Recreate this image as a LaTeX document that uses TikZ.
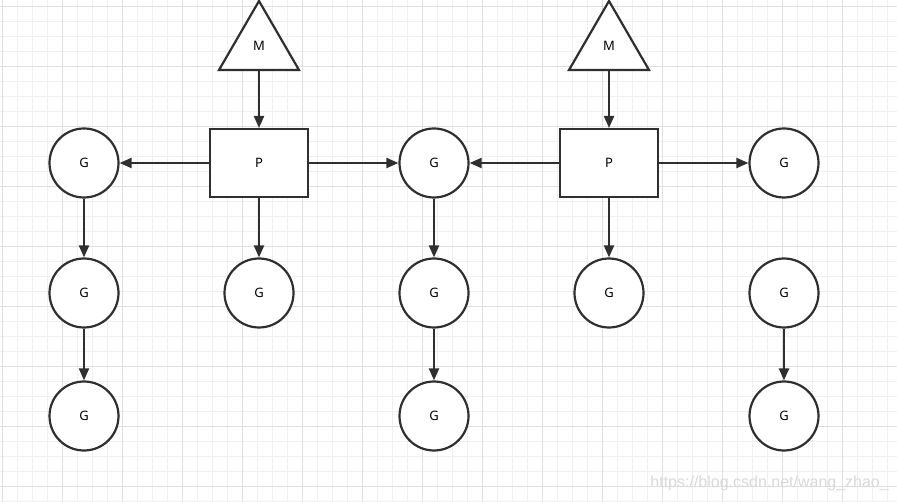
\documentclass[tikz,border=0pt]{standalone}
\usepackage{fontspec}
\setmainfont{Noto Sans}
\usetikzlibrary{arrows.meta}
\definecolor{ink}{HTML}{2F2F2F}
\definecolor{gridminor}{HTML}{F0F0F0}
\definecolor{gridmajor}{HTML}{E0E0E0}
\definecolor{wm}{HTML}{D9D9D9}
\begin{document}
\begin{tikzpicture}[x=1pt,y=-1pt,
  gnode/.style={circle,draw=ink,line width=2.2pt,fill=white,minimum size=69pt,inner sep=0pt,font=\fontsize{13}{13}\selectfont},
  pnode/.style={rectangle,draw=ink,line width=2pt,fill=white,minimum width=98pt,minimum height=68pt,inner sep=0pt,font=\fontsize{13}{13}\selectfont},
  conn/.style={draw=ink,line width=2.1pt,-{Triangle[length=12pt,width=10pt]}},
  tri/.style={draw=ink,line width=2.2pt,fill=white}]
\useasboundingbox (0,0) rectangle (897,502);
\fill[white] (0,0) rectangle (897,502);
% grid
\foreach \x in {2.7,17.7,...,897} {\draw[gridminor,line width=1pt] (\x,0) -- (\x,502);}
\foreach \y in {6.7,21.7,...,502} {\draw[gridminor,line width=1pt] (0,\y) -- (897,\y);}
\foreach \x in {2.7,62.7,...,897} {\draw[gridmajor,line width=1pt] (\x,0) -- (\x,502);}
\foreach \y in {6.7,66.7,...,502} {\draw[gridmajor,line width=1pt] (0,\y) -- (897,\y);}
% M triangles
\draw[tri] (259,1) -- (299,70) -- (219,70) -- cycle;
\node[font=\fontsize{13}{13}\selectfont] (m1) at (259,46) {M};
\coordinate (m1b) at (259,70);
\draw[tri] (609,1) -- (649,70) -- (569,70) -- cycle;
\node[font=\fontsize{13}{13}\selectfont] (m2) at (609,46) {M};
\coordinate (m2b) at (609,70);
% P nodes
\node[pnode] (p1) at (259,163) {P};
\node[pnode] (p2) at (609,163) {P};
% G nodes
\node[gnode] (g1) at (84,163) {G};
\node[gnode] (g2) at (84,293) {G};
\node[gnode] (g3) at (84,416) {G};
\node[gnode] (g4) at (259,293) {G};
\node[gnode] (g5) at (434,163) {G};
\node[gnode] (g6) at (434,293) {G};
\node[gnode] (g7) at (434,416) {G};
\node[gnode] (g8) at (609,293) {G};
\node[gnode] (g9) at (784,163) {G};
\node[gnode] (g10) at (784,293) {G};
\node[gnode] (g11) at (784,416) {G};
% connectors
\draw[conn] (m1b) -- (p1.north);
\draw[conn] (m2b) -- (p2.north);
\draw[conn] (p1.west) -- (g1.east);
\draw[conn] (p1.east) -- (g5.west);
\draw[conn] (p1.south) -- (g4.north);
\draw[conn] (p2.west) -- (g5.east);
\draw[conn] (p2.east) -- (g9.west);
\draw[conn] (p2.south) -- (g8.north);
\draw[conn] (g1.south) -- (g2.north);
\draw[conn] (g2.south) -- (g3.north);
\draw[conn] (g5.south) -- (g6.north);
\draw[conn] (g6.south) -- (g7.north);
\draw[conn] (g10.south) -- (g11.north);
% watermark
\node[anchor=east,text=wm,font=\fontspec{Liberation Sans}\fontsize{16}{16}\selectfont,inner sep=0pt] (wmk) at (889,483) {https://blog.csdn.net/wang\_zhao\_};
\end{tikzpicture}
\end{document}
